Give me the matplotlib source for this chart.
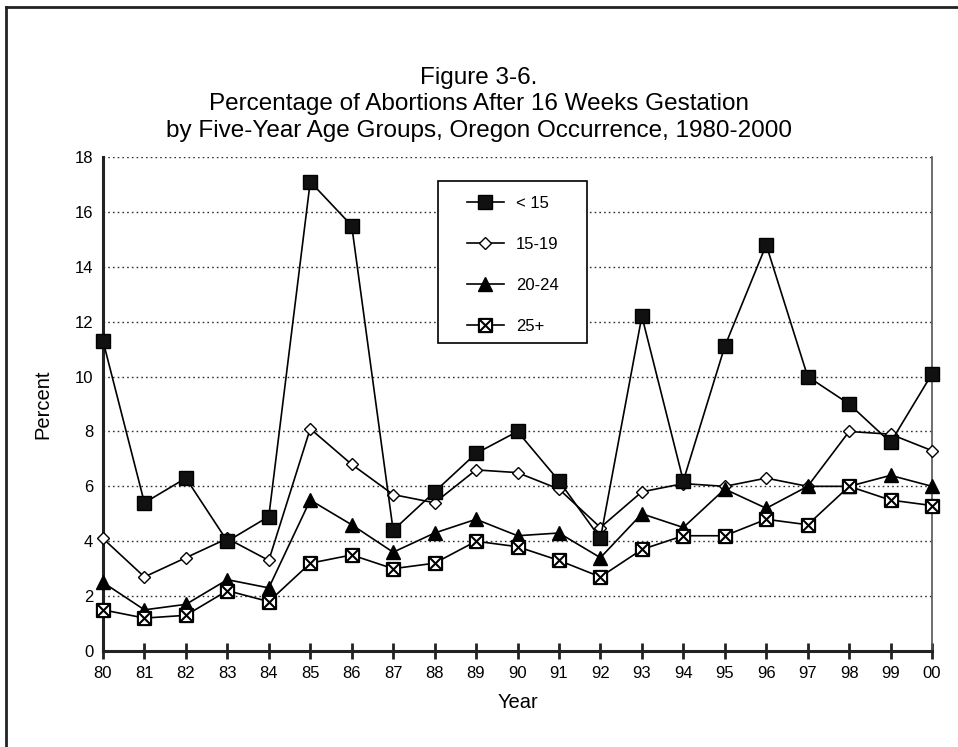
import matplotlib
matplotlib.use("Agg")
import matplotlib.pyplot as plt
from matplotlib.path import Path
from matplotlib.lines import Line2D
from matplotlib.patches import Rectangle
import numpy as np

plt.rcParams['font.family'] = ['Liberation Sans', 'DejaVu Sans']

years = list(range(1980, 2001))
year_labels = ["80", "81", "82", "83", "84", "85", "86", "87", "88", "89", "90",
               "91", "92", "93", "94", "95", "96", "97", "98", "99", "00"]
series_names = ["< 15", "15-19", "20-24", "25+"]
under15 = [11.3, 5.4, 6.3, 4.0, 4.9, 17.1, 15.5, 4.4, 5.8, 7.2, 8.0,
           6.2, 4.1, 12.2, 6.2, 11.1, 14.8, 10.0, 9.0, 7.6, 10.1]
age15_19 = [4.1, 2.7, 3.4, 4.1, 3.3, 8.1, 6.8, 5.7, 5.4, 6.6, 6.5,
            5.9, 4.5, 5.8, 6.1, 6.0, 6.3, 6.0, 8.0, 7.9, 7.3]
age20_24 = [2.5, 1.5, 1.7, 2.6, 2.3, 5.5, 4.6, 3.6, 4.3, 4.8, 4.2,
            4.3, 3.4, 5.0, 4.5, 5.9, 5.2, 6.0, 6.0, 6.4, 6.0]
age25p = [1.5, 1.2, 1.3, 2.2, 1.8, 3.2, 3.5, 3.0, 3.2, 4.0, 3.8,
          3.3, 2.7, 3.7, 4.2, 4.2, 4.8, 4.6, 6.0, 5.5, 5.3]

# square with an X inside
verts = [(-1, -1), (1, -1), (1, 1), (-1, 1), (-1, -1),
         (-1, -1), (1, 1), (-1, 1), (1, -1)]
codes = [Path.MOVETO, Path.LINETO, Path.LINETO, Path.LINETO, Path.CLOSEPOLY,
         Path.MOVETO, Path.LINETO, Path.MOVETO, Path.LINETO]
sqx = Path(verts, codes)

fig = plt.figure(figsize=(9.58, 7.47), dpi=100)
ax = fig.add_axes([0.1075, 0.1285, 0.8654, 0.6613])

lw = 1.2
ax.plot(years, under15, color='black', lw=lw, marker='s', markersize=10,
        markerfacecolor='#111111', markeredgecolor='black', clip_on=False, zorder=5,
        label=series_names[0])
ax.plot(years, age15_19, color='black', lw=lw, marker='D', markersize=6.5,
        markerfacecolor='white', markeredgecolor='black', markeredgewidth=1.0,
        clip_on=False, zorder=4, label=series_names[1])
ax.plot(years, age20_24, color='black', lw=lw, marker='^', markersize=10,
        markerfacecolor='black', markeredgecolor='black', clip_on=False, zorder=4,
        label=series_names[2])
ax.plot(years, age25p, color='black', lw=lw, marker=sqx, markersize=9.5,
        markerfacecolor='white', markeredgecolor='black', markeredgewidth=1.5,
        clip_on=False, zorder=4, label=series_names[3])

ax.set_xlim(1980, 2000)
ax.set_ylim(0, 18)
ax.set_xticks(years)
ax.set_xticklabels(year_labels, fontsize=12)
ax.set_yticks(np.arange(0, 19, 2))
ax.set_yticklabels([str(v) for v in range(0, 19, 2)], fontsize=12)
ax.tick_params(axis='x', direction='inout', length=11, width=2, color='#222222', pad=5)
ax.tick_params(axis='y', length=0, pad=7)

for y in range(2, 19, 2):
    ax.axhline(y, color='#333333', lw=1.0, ls=(0, (1.2, 2.2)), zorder=1)

ax.spines['left'].set_linewidth(2.2)
ax.spines['left'].set_color('#222222')
ax.spines['bottom'].set_linewidth(2.2)
ax.spines['bottom'].set_color('#222222')
ax.spines['right'].set_linewidth(1.2)
ax.spines['right'].set_color('#555555')
ax.spines['top'].set_visible(False)

ax.set_xlabel("Year", fontsize=14.5, labelpad=9)
ax.set_ylabel("Percent", fontsize=14.5, labelpad=16)

# legend box drawn separately
ax.add_patch(Rectangle((0.404, 0.6235), 0.1797, 0.328, transform=ax.transAxes,
                       facecolor='white', edgecolor='black', lw=1.2, zorder=6,
                       clip_on=False))
leg = ax.legend(loc='upper left', bbox_to_anchor=(0.439, 0.921),
                borderaxespad=0, borderpad=0, fontsize=12, labelspacing=1.55,
                handlelength=2.2, handletextpad=0.75, frameon=False)
leg.set_zorder(7)

fig.text(0.5, 0.8956, "Figure 3-6.", ha='center', va='center', fontsize=17.5)
fig.text(0.5, 0.8608, "Percentage of Abortions After 16 Weeks Gestation",
         ha='center', va='center', fontsize=17.5)
fig.text(0.5, 0.8246, "by Five-Year Age Groups, Oregon Occurrence, 1980-2000",
         ha='center', va='center', fontsize=17.5)

# outer frame (left and top edges visible)
fig.add_artist(Line2D([0.0058, 0.0058], [0.0, 0.991], transform=fig.transFigure,
                      color='#222222', lw=2.0))
fig.add_artist(Line2D([0.0058, 1.0], [0.991, 0.991], transform=fig.transFigure,
                      color='#222222', lw=2.0))

fig.savefig("out.png", dpi=100)
